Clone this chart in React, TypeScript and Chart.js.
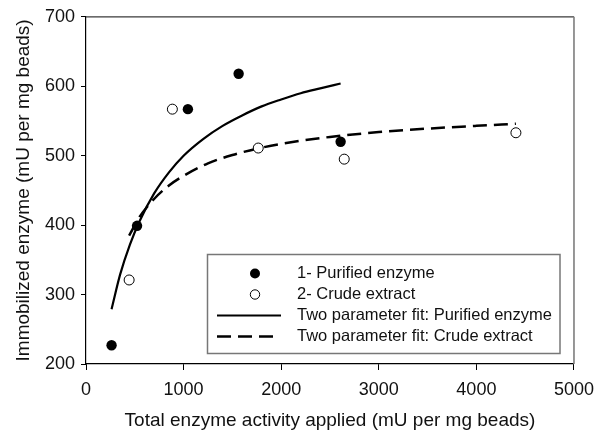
import React, { useEffect, useRef } from "react";
import { Chart, registerables } from "chart.js";

Chart.register(...registerables);

const purifiedX = [262, 523, 1044, 1564, 2609];
const purifiedY = [227, 399, 567, 618, 520];
const crudeX = [442, 885, 1765, 2646, 4405];
const crudeY = [321, 567, 511, 495, 533];

// Fitted curves
const fitPurifiedX = [262, 350, 450, 550, 700, 850, 1000, 1200, 1400, 1600, 1800, 2000, 2200, 2400, 2609];
const fitPurifiedY = [279, 329, 372, 406, 446, 476, 500, 524, 543, 558, 571, 581, 590, 597, 604];
const fitCrudeX = [442, 550, 700, 850, 1000, 1250, 1500, 1750, 2000, 2500, 3000, 3500, 4000, 4405];
const fitCrudeY = [385, 412, 438, 457, 471, 489, 501, 510, 517, 527, 534, 539, 543, 546];

const xTicks = [0, 1000, 2000, 3000, 4000, 5000];
const yTicks = [200, 300, 400, 500, 600, 700];

const seriesLabels = [
  "1- Purified enzyme",
  "2- Crude extract",
  "Two parameter fit: Purified enzyme",
  "Two parameter fit: Crude extract",
];

const FONT = "'Liberation Sans', Arial, Helvetica, sans-serif";

const pts = (xs: number[], ys: number[]) => xs.map((x, i) => ({ x, y: ys[i] }));

const framePlugin = {
  id: "frame",
  afterDraw(chart: any) {
    const { ctx, chartArea: a } = chart;
    ctx.save();
    ctx.strokeStyle = "#3a3a3a";
    ctx.lineWidth = 1.3;
    ctx.beginPath();
    ctx.moveTo(a.left, a.top);
    ctx.lineTo(a.right, a.top);
    ctx.stroke();
    ctx.strokeStyle = "#7d7d7d";
    ctx.lineWidth = 1.6;
    ctx.beginPath();
    ctx.moveTo(a.right, a.top);
    ctx.lineTo(a.right, a.bottom);
    ctx.stroke();
    ctx.restore();
  },
};

const legendPlugin = {
  id: "boxLegend",
  afterDraw(chart: any) {
    const ctx = chart.ctx;
    ctx.save();
    ctx.strokeStyle = "#777";
    ctx.lineWidth = 1.5;
    ctx.strokeRect(207.5, 254.5, 352.5, 99);
    const rows = [273.5, 294.5, 315.5, 336.5];
    ctx.fillStyle = "#000";
    ctx.beginPath();
    ctx.arc(255, rows[0], 5, 0, Math.PI * 2);
    ctx.fill();
    ctx.fillStyle = "#fff";
    ctx.strokeStyle = "#000";
    ctx.lineWidth = 1;
    ctx.beginPath();
    ctx.arc(255, rows[1], 4.7, 0, Math.PI * 2);
    ctx.fill();
    ctx.stroke();
    ctx.lineWidth = 2.2;
    ctx.beginPath();
    ctx.moveTo(217, rows[2]);
    ctx.lineTo(281, rows[2]);
    ctx.stroke();
    ctx.setLineDash([14, 7]);
    ctx.lineWidth = 2.5;
    ctx.beginPath();
    ctx.moveTo(217, rows[3]);
    ctx.lineTo(274, rows[3]);
    ctx.stroke();
    ctx.setLineDash([]);
    ctx.fillStyle = "#111";
    ctx.font = `16.5px ${FONT}`;
    ctx.textBaseline = "middle";
    ctx.textAlign = "left";
    seriesLabels.forEach((t, i) => ctx.fillText(t, 297, rows[i]));
    ctx.restore();
  },
};

export default function App() {
  const ref = useRef<HTMLCanvasElement | null>(null);
  useEffect(() => {
    if (!ref.current) return;
    const chart = new Chart(ref.current, {
      type: "scatter",
      data: {
        datasets: [
          {
            label: seriesLabels[0],
            data: pts(purifiedX, purifiedY),
            pointRadius: 5.2,
            pointBackgroundColor: "#000",
            pointBorderColor: "#000",
            pointBorderWidth: 0,
            showLine: false,
            order: 0,
          },
          {
            label: seriesLabels[1],
            data: pts(crudeX, crudeY),
            pointRadius: 5,
            pointBackgroundColor: "#fff",
            pointBorderColor: "#000",
            pointBorderWidth: 1,
            showLine: false,
            order: 0,
          },
          {
            label: seriesLabels[2],
            data: pts(fitPurifiedX, fitPurifiedY),
            showLine: true,
            pointRadius: 0,
            borderColor: "#000",
            borderWidth: 2.2,
            cubicInterpolationMode: "monotone",
            order: 2,
          },
          {
            label: seriesLabels[3],
            data: pts(fitCrudeX, fitCrudeY),
            showLine: true,
            pointRadius: 0,
            borderColor: "#000",
            borderWidth: 2.5,
            borderDash: [14, 7],
            cubicInterpolationMode: "monotone",
            order: 2,
          },
        ],
      } as any,
      options: {
        animation: false,
        responsive: false,
        layout: { padding: { top: 12.5, right: 27, left: 0, bottom: 0 } },
        plugins: { legend: { display: false }, tooltip: { enabled: false } },
        scales: {
          x: {
            type: "linear",
            min: 0,
            max: 5000,
            afterBuildTicks: (s: any) => {
              s.ticks = xTicks.map((v) => ({ value: v }));
            },
            afterFit: (s: any) => {
              s.height = 69;
            },
            ticks: {
              color: "#111",
              font: { family: FONT, size: 18 },
              padding: 9,
              maxRotation: 0,
              callback: (v: any) => String(v),
            },
            grid: { drawOnChartArea: false, drawTicks: true, tickLength: 6, color: "#000" },
            border: { display: true, color: "#000", width: 1.2 },
            title: {
              display: true,
              text: "Total enzyme activity applied (mU per mg beads)",
              color: "#111",
              font: { family: FONT, size: 19 },
              padding: { top: 0, bottom: 1 },
            },
          },
          y: {
            type: "linear",
            min: 200,
            max: 700,
            afterBuildTicks: (s: any) => {
              s.ticks = yTicks.map((v) => ({ value: v }));
            },
            afterFit: (s: any) => {
              s.width = 86;
            },
            ticks: { color: "#111", font: { family: FONT, size: 18 }, padding: 6, callback: (v: any) => String(v) },
            grid: { drawOnChartArea: false, drawTicks: true, tickLength: 5, color: "#000" },
            border: { display: true, color: "#000", width: 1.2 },
            title: {
              display: true,
              text: "Immobilized enzyme (mU per mg beads)",
              color: "#111",
              font: { family: FONT, size: 19 },
              padding: { top: 12, bottom: 0 },
            },
          },
        },
      } as any,
      plugins: [framePlugin, legendPlugin],
    });
    return () => chart.destroy();
  }, []);
  return (
    <div style={{ position: "absolute", left: 0, top: 0, width: 603, height: 433, background: "#fff" }}>
      <canvas ref={ref} width={603} height={433} style={{ display: "block" }} />
    </div>
  );
}
